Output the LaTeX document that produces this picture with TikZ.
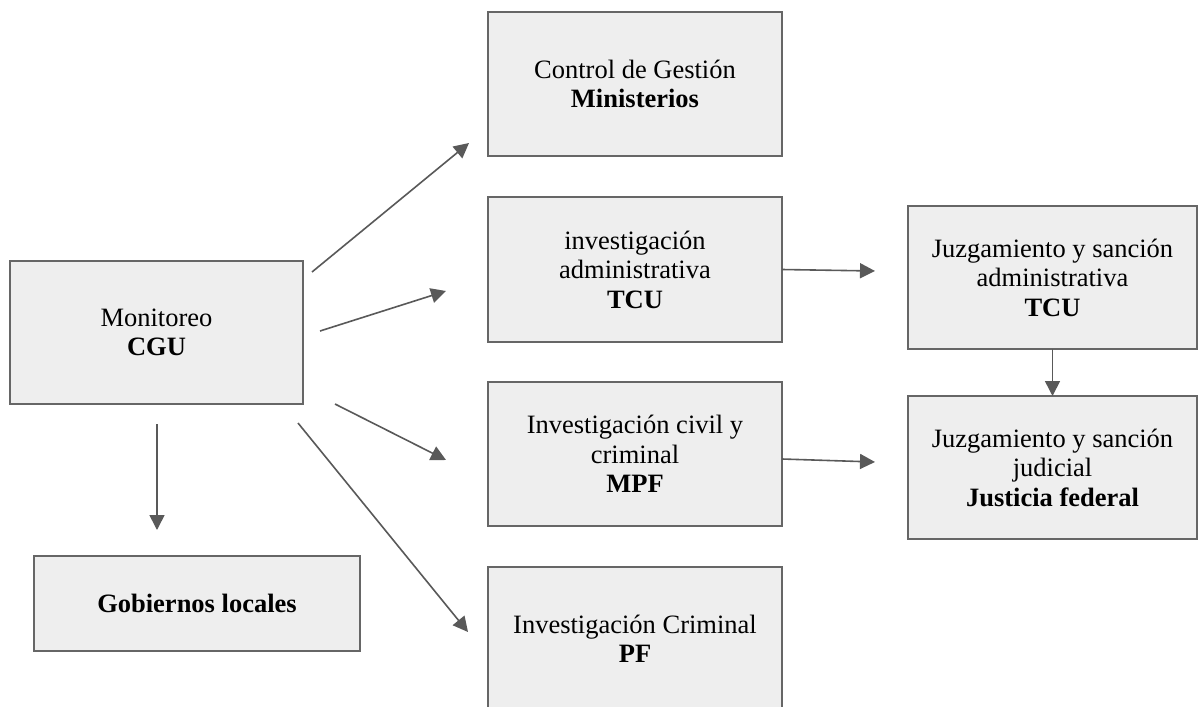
\documentclass[tikz,border=0pt]{standalone}
\usepackage{fontspec}
\setmainfont{Liberation Serif}
\usetikzlibrary{arrows.meta}
\definecolor{boxfill}{HTML}{EEEEEE}
\definecolor{boxline}{HTML}{666666}
\definecolor{arrowcol}{HTML}{595959}
\begin{document}
\begin{tikzpicture}[x=1pt,y=-1pt,
  box/.style={draw=boxline, fill=boxfill, line width=2pt, inner sep=0pt, outer sep=0pt,
    align=center, font=\fontsize{26.5}{29.5}\selectfont},
  conn/.style={draw=arrowcol, line width=1.6pt, -{Triangle[length=15pt,width=15pt]}}]
\useasboundingbox (0,0) rectangle (1198,706);
\clip (0,0) rectangle (1198,706);
\fill[white] (0,0) rectangle (1198,706);
% boxes
\node[box, minimum width=294pt, minimum height=144pt] (ctrl) at (635,84) {Control de Gestión\\\textbf{Ministerios}};
\node[box, minimum width=294pt, minimum height=145pt] (adm) at (635,269.5) {investigación\\administrativa\\\textbf{TCU}};
\node[box, minimum width=294pt, minimum height=144pt] (mpf) at (635,454) {Investigación civil y\\criminal\\\textbf{MPF}};
\node[box, minimum width=294pt, minimum height=144pt] (pf) at (635,639) {Investigación Criminal\\\textbf{PF}};
\node[box, minimum width=293pt, minimum height=143pt] (cgu) at (156.5,332.5) {Monitoreo\\\textbf{CGU}};
\node[box, minimum width=326pt, minimum height=95pt] (gob) at (197,603.5) {\textbf{Gobiernos locales}};
\node[box, minimum width=289pt, minimum height=143pt] (jadm) at (1052.5,277.5) {Juzgamiento y sanción\\administrativa\\\textbf{TCU}};
\node[box, minimum width=289pt, minimum height=143pt] (jjud) at (1052.5,467.5) {Juzgamiento y sanción\\judicial\\\textbf{Justicia federal}};
% connector end points
\coordinate (a1s) at (312,272); \coordinate (a1e) at (469,143);
\coordinate (a2s) at (320,331); \coordinate (a2e) at (446,291);
\coordinate (a3s) at (335,404); \coordinate (a3e) at (446,460);
\coordinate (a4s) at (298,423); \coordinate (a4e) at (468,632);
\coordinate (a5s) at (157,424); \coordinate (a5e) at (157,530);
\coordinate (a6e) at (875,271);
\coordinate (a7s) at (782,459); \coordinate (a7e) at (875,462);
% connectors
\draw[conn] (a1s) -- (a1e);
\draw[conn] (a2s) -- (a2e);
\draw[conn] (a3s) -- (a3e);
\draw[conn] (a4s) -- (a4e);
\draw[conn] (a5s) -- (a5e);
\draw[conn] (adm.east) -- (a6e);
\draw[conn] (a7s) -- (a7e);
\draw[conn] (jadm.south) -- (jjud.north);
\end{tikzpicture}
\end{document}
